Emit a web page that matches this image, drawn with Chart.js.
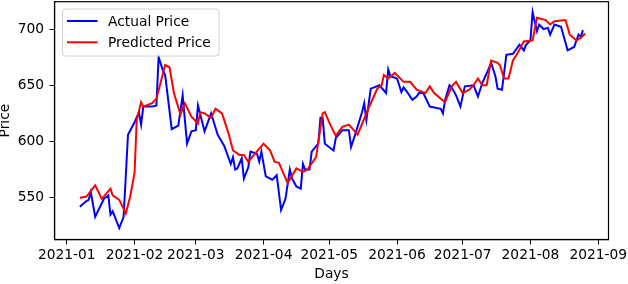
<!DOCTYPE html>
<html>
<head>
<meta charset="utf-8">
<script src="https://cdn.jsdelivr.net/npm/chart.js@4/dist/chart.umd.min.js"></script>
<style>
  body { margin: 0; background: #fff; }
  #wrap { width: 628px; height: 284px; }
</style>
</head>
<body>
<div id="wrap"><canvas id="priceChart" width="628" height="284"></canvas></div>
<script>
// Data for the chart
const actualDates = [
  '2021-01-07', '2021-01-10', '2021-01-11', '2021-01-12', '2021-01-14', '2021-01-18', '2021-01-20', '2021-01-21',
  '2021-01-22', '2021-01-25', '2021-01-27', '2021-01-29', '2021-02-01', '2021-02-03', '2021-02-04', '2021-02-05',
  '2021-02-09', '2021-02-11', '2021-02-12', '2021-02-14', '2021-02-15', '2021-02-18', '2021-02-21', '2021-02-23',
  '2021-02-25', '2021-02-27', '2021-03-01', '2021-03-02', '2021-03-05', '2021-03-08', '2021-03-11', '2021-03-14',
  '2021-03-17', '2021-03-18', '2021-03-19', '2021-03-20', '2021-03-22', '2021-03-23', '2021-03-25', '2021-03-26',
  '2021-03-29', '2021-03-30', '2021-03-31', '2021-04-02', '2021-04-05', '2021-04-07', '2021-04-09', '2021-04-11',
  '2021-04-13', '2021-04-14', '2021-04-16', '2021-04-18', '2021-04-19', '2021-04-20', '2021-04-22', '2021-04-23',
  '2021-04-26', '2021-04-27', '2021-04-28', '2021-04-29', '2021-05-03', '2021-05-04', '2021-05-07', '2021-05-10',
  '2021-05-11', '2021-05-13', '2021-05-16', '2021-05-17', '2021-05-18', '2021-05-20', '2021-05-24', '2021-05-27',
  '2021-05-28', '2021-05-29', '2021-06-01', '2021-06-03', '2021-06-04', '2021-06-06', '2021-06-08', '2021-06-10',
  '2021-06-11', '2021-06-13', '2021-06-16', '2021-06-21', '2021-06-22', '2021-06-23', '2021-06-25', '2021-06-26',
  '2021-06-28', '2021-06-30', '2021-07-02', '2021-07-06', '2021-07-08', '2021-07-10', '2021-07-13', '2021-07-14',
  '2021-07-16', '2021-07-17', '2021-07-19', '2021-07-21', '2021-07-24', '2021-07-27', '2021-07-29', '2021-07-30',
  '2021-08-01', '2021-08-02', '2021-08-04', '2021-08-05', '2021-08-07', '2021-08-09', '2021-08-10', '2021-08-12',
  '2021-08-15', '2021-08-18', '2021-08-21', '2021-08-23', '2021-08-24', '2021-08-25'
];
const actualPrices = [
  542, 547, 548, 555, 533, 549, 552, 535,
  538, 523, 533, 606, 617, 626, 615, 631,
  631, 632, 675, 663, 659, 611, 614, 641,
  598, 609, 610, 632, 609, 625, 606, 596,
  580, 586, 575, 576, 585, 567, 577, 591,
  589, 582, 591, 569, 566, 570, 539, 549,
  575, 567, 560, 558, 580, 575, 575, 591,
  598, 621, 621, 598, 592, 603, 610, 610,
  595, 607, 626, 634, 619, 647, 650, 643,
  664, 658, 656, 644, 648, 643, 637, 640,
  643, 643, 631, 629, 625, 637, 650, 648,
  641, 631, 649, 650, 640, 652, 665, 670,
  658, 647, 646, 677, 678, 686, 681, 686,
  690, 715, 698, 704, 700, 701, 695, 704,
  702, 681, 684, 695, 693, 699
];

const predictedDates = [
  '2021-01-07', '2021-01-10', '2021-01-14', '2021-01-17', '2021-01-21', '2021-01-22', '2021-01-25', '2021-01-28',
  '2021-01-30', '2021-02-01', '2021-02-02', '2021-02-04', '2021-02-05', '2021-02-09', '2021-02-11', '2021-02-15',
  '2021-02-17', '2021-02-19', '2021-02-22', '2021-02-24', '2021-02-27', '2021-03-02', '2021-03-03', '2021-03-05',
  '2021-03-08', '2021-03-10', '2021-03-13', '2021-03-16', '2021-03-18', '2021-03-21', '2021-03-23', '2021-03-25',
  '2021-03-28', '2021-04-01', '2021-04-04', '2021-04-06', '2021-04-08', '2021-04-12', '2021-04-16', '2021-04-19',
  '2021-04-21', '2021-04-25', '2021-04-28', '2021-04-29', '2021-05-01', '2021-05-04', '2021-05-07', '2021-05-10',
  '2021-05-14', '2021-05-18', '2021-05-20', '2021-05-23', '2021-05-25', '2021-05-26', '2021-05-28', '2021-05-31',
  '2021-06-04', '2021-06-07', '2021-06-10', '2021-06-14', '2021-06-16', '2021-06-18', '2021-06-21', '2021-06-23',
  '2021-06-26', '2021-06-28', '2021-07-01', '2021-07-04', '2021-07-06', '2021-07-08', '2021-07-10', '2021-07-12',
  '2021-07-14', '2021-07-17', '2021-07-18', '2021-07-20', '2021-07-22', '2021-07-24', '2021-07-26', '2021-07-29',
  '2021-08-02', '2021-08-04', '2021-08-08', '2021-08-10', '2021-08-12', '2021-08-17', '2021-08-19', '2021-08-22',
  '2021-08-24', '2021-08-26'
];
const predictedPrices = [
  550, 551, 561, 549, 558, 552, 548, 536,
  551, 572, 619, 635, 631, 634, 638, 668,
  666, 643, 624, 634, 622, 616, 626, 625,
  621, 629, 625, 607, 592, 588, 588, 582,
  589, 598, 592, 582, 581, 563, 576, 573,
  575, 586, 625, 626, 617, 605, 613, 615,
  606, 625, 634, 647, 650, 659, 656, 661,
  653, 653, 646, 643, 649, 643, 638, 635,
  649, 653, 643, 646, 650, 656, 650, 650,
  672, 670, 668, 656, 656, 672, 678, 689,
  690, 710, 708, 704, 707, 708, 695, 690,
  692, 696
];

const monthTicks = ['2021-01-01', '2021-02-01', '2021-03-01', '2021-04-01', '2021-05-01',
  '2021-06-01', '2021-07-01', '2021-08-01', '2021-09-01'];
const priceTicks = [550, 600, 650, 700];

// days counted from 2021-01-01, so a linear axis can stand in for a time axis
const dayZero = Date.parse('2021-01-01');
const toDay = s => (Date.parse(s) - dayZero) / 864e5;
const toPoints = (dates, vals) => dates.map((d, i) => ({ x: toDay(d), y: vals[i] }));

const fontFam = "'DejaVu Sans', sans-serif";
const fontSize = 13.8;

// black box round the plot, like matplotlib
const framePlugin = {
  id: 'frame',
  afterDatasetsDraw(chart) {
    const a = chart.chartArea, c = chart.ctx;
    c.save();
    c.strokeStyle = '#000';
    c.lineWidth = 1.2;
    c.strokeRect(a.left, a.top, a.right - a.left, a.bottom - a.top);
    c.restore();
  }
};

// legend box drawn in the upper left corner
const legendBox = {
  id: 'legendBox',
  afterDraw(chart) {
    const c = chart.ctx;
    const x = 62.5, y = 9, w = 156.5, h = 47;
    c.save();
    c.beginPath();
    c.roundRect(x, y, w, h, 3);
    c.fillStyle = 'rgba(255,255,255,0.8)';
    c.fill();
    c.strokeStyle = '#d0d0d0';
    c.lineWidth = 1;
    c.stroke();
    c.font = fontSize + 'px ' + fontFam;
    c.textBaseline = 'middle';
    chart.data.datasets.forEach((ds, i) => {
      const ly = 21 + i * 21.3;
      c.strokeStyle = ds.borderColor;
      c.lineWidth = 2;
      c.beginPath();
      c.moveTo(67, ly);
      c.lineTo(97.5, ly);
      c.stroke();
      c.fillStyle = '#000';
      c.fillText(ds.label, 108, ly + 1);
    });
    c.restore();
  }
};

const ctx = document.getElementById('priceChart').getContext('2d');
const priceChart = new Chart(ctx, {
  type: 'line',
  data: {
    datasets: [{
      label: 'Actual Price',
      data: toPoints(actualDates, actualPrices),
      borderColor: '#0000ff',
      borderWidth: 2,
      pointRadius: 0,
      tension: 0,
      order: 2
    }, {
      label: 'Predicted Price',
      data: toPoints(predictedDates, predictedPrices),
      borderColor: '#ff0000',
      borderWidth: 2,
      pointRadius: 0,
      tension: 0,
      order: 1
    }]
  },
  options: {
    responsive: false,
    animation: false,
    layout: { padding: { left: 0, right: 19.5, top: 1.7, bottom: 0 } },
    plugins: {
      legend: { display: false },
      tooltip: { enabled: false }
    },
    scales: {
      x: {
        type: 'linear',
        min: -5.6,
        max: 247.7,
        afterBuildTicks: s => { s.ticks = monthTicks.map(m => ({ value: toDay(m) })); },
        afterFit: s => { s.height = 44.5; s.paddingLeft = 0; s.paddingRight = 0; },
        ticks: {
          autoSkip: false,
          maxRotation: 0,
          padding: 3,
          color: '#000',
          font: { family: fontFam, size: fontSize },
          callback: (v, i) => monthTicks[i].slice(0, 7)
        },
        grid: { display: true, drawOnChartArea: false, drawTicks: true, tickLength: 5, color: '#000' },
        border: { display: true, color: '#000', width: 1.2 },
        title: {
          display: true,
          text: 'Days',
          color: '#000',
          font: { family: fontFam, size: fontSize },
          padding: { top: 0, bottom: 1 }
        }
      },
      y: {
        min: 512.8,
        max: 724.3,
        afterBuildTicks: s => { s.ticks = priceTicks.map(v => ({ value: v })); },
        afterFit: s => { s.width = 54.5; s.paddingTop = 0; s.paddingBottom = 0; },
        ticks: {
          padding: 5.5,
          color: '#000',
          font: { family: fontFam, size: fontSize }
        },
        grid: { display: true, drawOnChartArea: false, drawTicks: true, tickLength: 5, color: '#000' },
        border: { display: true, color: '#000', width: 1.2 },
        title: {
          display: true,
          text: 'Price',
          color: '#000',
          font: { family: fontFam, size: fontSize },
          padding: { top: -2.5, bottom: 0 }
        }
      }
    }
  },
  plugins: [framePlugin, legendBox]
});
</script>
</body>
</html>
